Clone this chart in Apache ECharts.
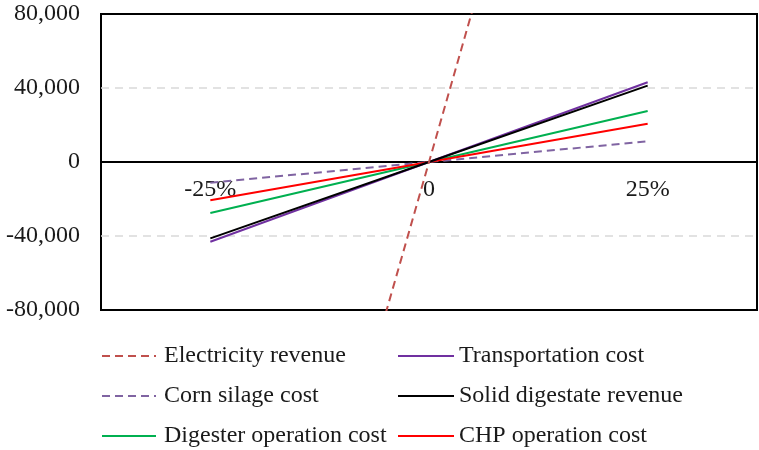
<!DOCTYPE html>
<html>
<head>
<meta charset="utf-8">
<script src="https://cdn.jsdelivr.net/npm/echarts@6/dist/echarts.min.js"></script>
<style>
  html, body { margin: 0; padding: 0; background: #fff; }
  #chart { width: 759px; height: 450px; }
</style>
</head>
<body>
<div id="chart"></div>
<script>
// Sensitivity of net value to a ±25% change in each parameter
const categories = ['-25%', '0', '25%'];

const electricityRevenue = [-413000, 0, 413000];
const cornSilageCost = [-11200, 0, 11200];
const digesterOperationCost = [-27600, 0, 27600];
const transportationCost = [-43100, 0, 43100];
const solidDigestateRevenue = [-41300, 0, 41300];
const chpOperationCost = [-20700, 0, 20700];

const yTicks = { min: -80000, max: 80000, interval: 40000 };

const FONT = 'Liberation Serif';
const TEXT = '#1a1a1a';

function lineSeries(name, data, color, dashed) {
  return {
    name: name,
    type: 'line',
    data: data,
    symbol: 'none',
    clip: true,
    lineStyle: { color: color, width: 2, type: dashed ? [8, 5] : 'solid' },
    itemStyle: { color: color },
    emphasis: { disabled: true }
  };
}

function legendColumn(left, iconWidth, textGap, names) {
  return {
    orient: 'vertical', left: left, top: 344, padding: 0,
    itemWidth: iconWidth, itemHeight: 12, itemGap: 16,
    itemStyle: { opacity: 0, borderWidth: 0 },
    textStyle: {
      fontFamily: FONT, fontSize: 24, color: TEXT, lineHeight: 24,
      padding: [0, 0, 0, textGap]
    },
    data: names
  };
}

const chart = echarts.init(document.getElementById('chart'), null, { renderer: 'canvas' });
chart.setOption({
  animation: false,
  backgroundColor: '#fff',
  grid: {
    left: 101, top: 14, right: 2, bottom: 140,
    show: true, borderColor: '#000', borderWidth: 2, backgroundColor: 'transparent'
  },
  xAxis: {
    type: 'category',
    data: categories,
    boundaryGap: true,
    position: 'bottom',
    offset: -148,
    axisLine: { onZero: false, lineStyle: { color: '#000', width: 2 } },
    axisTick: { show: false },
    axisLabel: { fontFamily: FONT, fontSize: 24, color: TEXT, margin: 16 },
    splitLine: { show: false }
  },
  yAxis: {
    type: 'value',
    min: yTicks.min, max: yTicks.max, interval: yTicks.interval,
    axisLine: { show: false },
    axisTick: { show: false },
    axisLabel: {
      fontFamily: FONT, fontSize: 24, color: TEXT, margin: 21,
      formatter: v => v.toLocaleString('en-US')
    },
    splitLine: {
      show: true, showMinLine: false, showMaxLine: false,
      lineStyle: { color: '#d9d9d9', width: 1.5, type: [8, 6] }
    }
  },
  legend: [
    legendColumn(101, 54, 3, ['Electricity revenue', 'Corn silage cost', 'Digester operation cost']),
    legendColumn(397, 56, 0, ['Transportation cost', 'Solid digestate revenue', 'CHP operation cost'])
  ],
  series: [
    lineSeries('Corn silage cost', cornSilageCost, '#8064a2', true),
    lineSeries('Digester operation cost', digesterOperationCost, '#00b050', false),
    lineSeries('CHP operation cost', chpOperationCost, '#ff0000', false),
    lineSeries('Transportation cost', transportationCost, '#7030a0', false),
    lineSeries('Solid digestate revenue', solidDigestateRevenue, '#000000', false),
    lineSeries('Electricity revenue', electricityRevenue, '#c0504d', true)
  ]
});
</script>
</body>
</html>
